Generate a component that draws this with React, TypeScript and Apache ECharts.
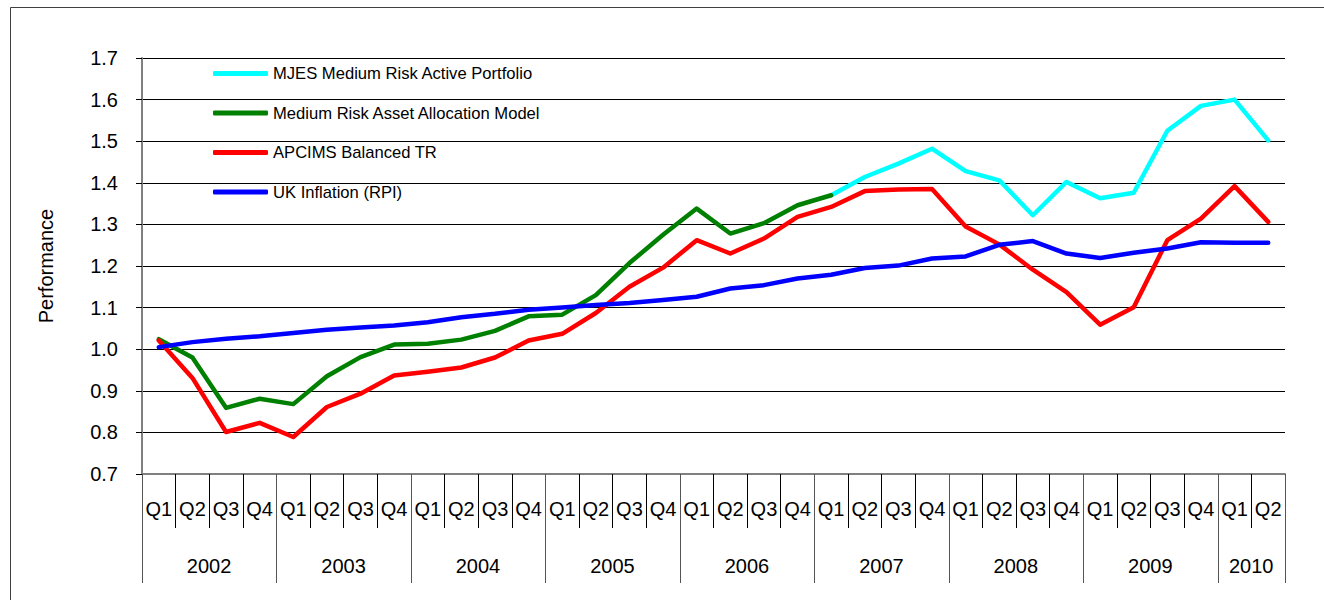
import React, { useEffect, useRef } from "react";
import * as echarts from "echarts";

const quarterLabels = [
  "Q1", "Q2", "Q3", "Q4", "Q1", "Q2", "Q3", "Q4", "Q1", "Q2", "Q3", "Q4",
  "Q1", "Q2", "Q3", "Q4", "Q1", "Q2", "Q3", "Q4", "Q1", "Q2", "Q3", "Q4",
  "Q1", "Q2", "Q3", "Q4", "Q1", "Q2", "Q3", "Q4", "Q1", "Q2",
];
const yearLabels = [
  "2002", "2002", "2002", "2002", "2003", "2003", "2003", "2003",
  "2004", "2004", "2004", "2004", "2005", "2005", "2005", "2005",
  "2006", "2006", "2006", "2006", "2007", "2007", "2007", "2007",
  "2008", "2008", "2008", "2008", "2009", "2009", "2009", "2009",
  "2010", "2010",
];
const periodIds = yearLabels.map((y, i) => y + " " + quarterLabels[i]);

const mjesActive = [
  null, null, null, null, null, null, null, null, null, null, null, null,
  null, null, null, null, null, null, null, null,
  1.370, 1.414, 1.446, 1.482, 1.428, 1.406, 1.322, 1.402, 1.363, 1.376, 1.525, 1.585, 1.600, 1.502,
];
const mediumRiskModel = [
  1.024, 0.980, 0.859, 0.881, 0.868, 0.935, 0.981, 1.011, 1.013, 1.023, 1.044, 1.079,
  1.083, 1.130, 1.207, 1.275, 1.338, 1.278, 1.303, 1.346, 1.370,
  null, null, null, null, null, null, null, null, null, null, null, null, null,
];
const apcimsBalanced = [
  1.021, 0.931, 0.801, 0.823, 0.789, 0.861, 0.893, 0.937, 0.946, 0.956, 0.980, 1.021,
  1.037, 1.087, 1.150, 1.196, 1.262, 1.230, 1.266, 1.318, 1.342, 1.380, 1.384, 1.385,
  1.295, 1.252, 1.191, 1.137, 1.059, 1.101, 1.262, 1.314, 1.392, 1.306,
];
const ukInflation = [
  1.005, 1.017, 1.025, 1.031, 1.039, 1.047, 1.052, 1.057, 1.065, 1.077, 1.085, 1.095,
  1.100, 1.106, 1.111, 1.118, 1.126, 1.146, 1.154, 1.170, 1.179, 1.195, 1.201, 1.218,
  1.223, 1.251, 1.260, 1.230, 1.219, 1.232, 1.242, 1.257, 1.256, 1.256,
];

const seriesNames = [
  "MJES Medium Risk Active Portfolio",
  "Medium Risk Asset Allocation Model",
  "APCIMS Balanced TR",
  "UK Inflation (RPI)",
];
const seriesColors = ["#00FFFF", "#008000", "#FF0000", "#0000FF"];

const FONT = "'Liberation Sans', Arial, sans-serif";
const AXIS_FONT = 20;

function yearStart(i: number) {
  return i === 0 || yearLabels[i] !== yearLabels[i - 1];
}
function yearLabelAt(i: number) {
  let s = i;
  while (s > 0 && yearLabels[s - 1] === yearLabels[i]) s--;
  let e = i;
  while (e < yearLabels.length - 1 && yearLabels[e + 1] === yearLabels[i]) e++;
  const count = e - s + 1;
  return i === s + Math.floor(count / 2);
}

export default function App() {
  const ref = useRef<HTMLDivElement>(null);
  useEffect(() => {
    if (!ref.current) return;
    const chart = echarts.init(ref.current, null, { renderer: "svg" });
    const data = [mjesActive, mediumRiskModel, apcimsBalanced, ukInflation];
    chart.setOption({
      animation: false,
      backgroundColor: "#fff",
      textStyle: { fontFamily: FONT },
      graphic: [
        {
          type: "rect",
          shape: { x: 10.5, y: 7.5, width: 1400, height: 700 },
          style: { fill: "none", stroke: "#404040", lineWidth: 1 },
          silent: true,
        },
      ],
      grid: { left: 142, right: 39, top: 58, bottom: 126, containLabel: false },
      legend: {
        orient: "vertical",
        left: 208,
        top: 60,
        itemWidth: 55,
        itemHeight: 5,
        itemGap: 22.5,
        icon: "roundRect",
        textStyle: { fontFamily: FONT, fontSize: 16.6, color: "#000", lineHeight: 16 },
        data: seriesNames,
      },
      xAxis: [
        {
          type: "category",
          data: periodIds,
          boundaryGap: true,
          axisLine: { show: true, lineStyle: { color: "#808080", width: 2 } },
          axisTick: { show: true, interval: 0, length: 54, lineStyle: { color: "#000", width: 1 } },
          axisLabel: {
            interval: 0,
            margin: 25,
            fontSize: AXIS_FONT,
            lineHeight: AXIS_FONT,
            color: "#000",
            fontFamily: FONT,
            formatter: (_v: string, i: number) => quarterLabels[i],
          },
          splitLine: { show: false },
        },
        {
          type: "category",
          data: periodIds,
          boundaryGap: true,
          position: "bottom",
          offset: 0,
          axisLine: { show: false },
          axisTick: {
            show: true,
            length: 109,
            interval: (i: number) => yearStart(i),
            lineStyle: { color: "#555", width: 1 },
          },
          axisLabel: {
            margin: 82,
            fontSize: AXIS_FONT,
            lineHeight: AXIS_FONT,
            color: "#000",
            fontFamily: FONT,
            padding: [0, 34, 0, 0],
            interval: (i: number) => yearLabelAt(i),
            formatter: (_v: string, i: number) => yearLabels[i],
          },
          splitLine: { show: false },
        },
      ],
      yAxis: {
        type: "value",
        min: 0.7,
        max: 1.7,
        interval: 0.1,
        name: "Performance",
        nameLocation: "middle",
        nameRotate: 90,
        nameGap: 86,
        nameTextStyle: { fontSize: AXIS_FONT, color: "#000", fontFamily: FONT },
        axisLine: { show: true, lineStyle: { color: "#808080", width: 2 } },
        axisTick: { show: true, length: 6, lineStyle: { color: "#000" } },
        axisLabel: {
          margin: 24,
          fontSize: AXIS_FONT,
          color: "#000",
          fontFamily: FONT,
          formatter: (v: number) => v.toFixed(1),
        },
        splitLine: { show: true, lineStyle: { color: "#000", width: 1 } },
      },
      series: seriesNames.map((name, k) => ({
        name,
        type: "line",
        xAxisIndex: 0,
        data: data[k],
        showSymbol: false,
        symbol: "none",
        connectNulls: false,
        color: seriesColors[k],
        lineStyle: { color: seriesColors[k], width: 4.5, join: "round", cap: "round" },
        itemStyle: { color: seriesColors[k] },
        z: 2 + k,
      })),
    });
    return () => chart.dispose();
  }, []);
  return (
    <div
      ref={ref}
      style={{ position: "fixed", left: 0, top: 0, width: 1324, height: 600 }}
    />
  );
}
